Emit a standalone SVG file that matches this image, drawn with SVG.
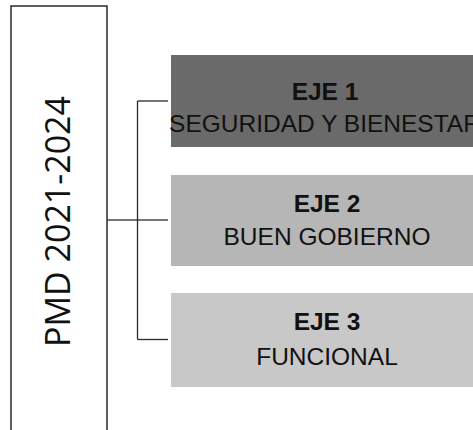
<svg xmlns="http://www.w3.org/2000/svg" width="473" height="430" viewBox="0 0 473 430">
<style>
.conn{stroke:#2a2a2a;stroke-width:1.3;fill:none}
.eje{font-family:"Liberation Sans",Arial,sans-serif;font-size:24.5px;font-weight:bold;fill:#111;text-anchor:middle}
.sub{font-family:"Liberation Sans",Arial,sans-serif;font-size:24.5px;fill:#111;text-anchor:middle}
</style>
<rect x="0" y="0" width="473" height="430" fill="#ffffff"/>
<g id="pmd">
<rect x="11" y="6" width="96" height="430" fill="#ffffff" stroke="#2a2a2a" stroke-width="1.5"/>
<text transform="translate(70,221.5) rotate(-90)" font-family="'Open Sans','Noto Sans',sans-serif" font-size="34" fill="#111" text-anchor="middle">PMD 2021-2024</text>
</g>
<g id="connectors">
<line class="conn" x1="107" y1="220" x2="137.5" y2="220"/>
<line class="conn" x1="137.5" y1="101" x2="137.5" y2="339.5"/>
<line class="conn" x1="137.5" y1="101" x2="168" y2="101"/>
<line class="conn" x1="137.5" y1="220" x2="168" y2="220"/>
<line class="conn" x1="137.5" y1="339.5" x2="168" y2="339.5"/>
</g>
<g id="eje1">
<rect x="171" y="55" width="310" height="92" fill="#6a6a6a"/>
<text class="eje" x="325" y="100">EJE 1</text>
<text class="sub" x="325" y="132">SEGURIDAD Y BIENESTAR</text>
</g>
<g id="eje2">
<rect x="171" y="175" width="310" height="91" fill="#b6b6b6"/>
<text class="eje" x="327" y="212">EJE 2</text>
<text class="sub" x="327" y="245">BUEN GOBIERNO</text>
</g>
<g id="eje3">
<rect x="171" y="293" width="310" height="94" fill="#c8c8c8"/>
<text class="eje" x="327" y="330">EJE 3</text>
<text class="sub" x="327" y="365">FUNCIONAL</text>
</g>
</svg>
